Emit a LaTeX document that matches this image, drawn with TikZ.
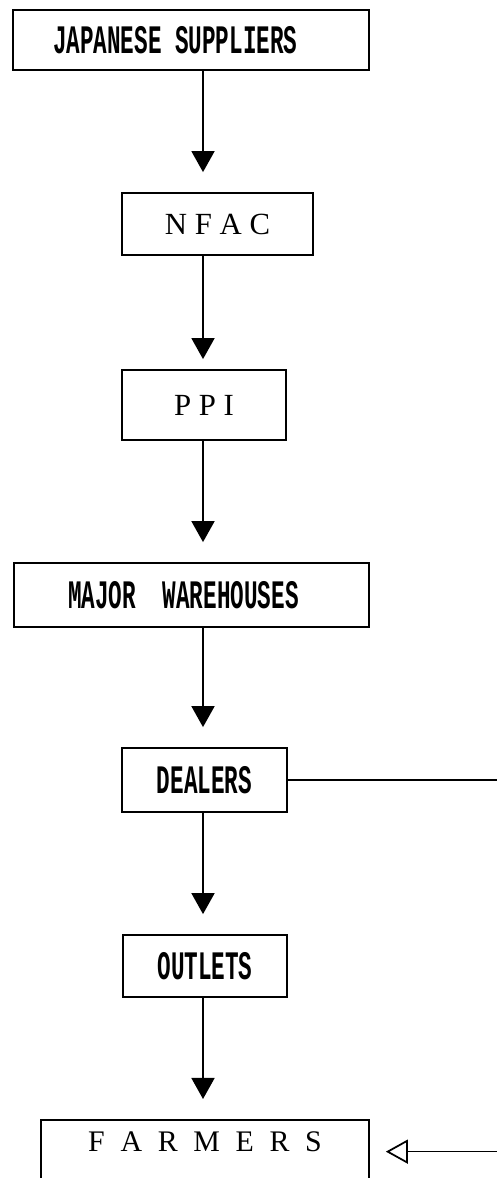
\documentclass[tikz,border=0pt]{standalone}
\usepackage{fontspec}
\setmainfont{Liberation Serif}
\newfontfamily\printfont[FakeStretch=0.56]{Liberation Mono}
\newfontfamily\widefont[WordSpace=2.1]{Liberation Serif}
\usetikzlibrary{arrows.meta}

\begin{document}
\begin{tikzpicture}[
    box/.style={draw, line width=1pt, inner sep=0pt},
    printed/.style={font=\printfont\bfseries\fontsize{23}{26}\selectfont},
    serifed/.style={font=\fontsize{17.5}{20}\selectfont},
    flow/.style={line width=1pt, -{Triangle[length=0.42cm, width=0.46cm]}, shorten >=0.4cm},
    feedback/.style={line width=0.8pt, -{Triangle[open, length=0.44cm, width=0.48cm, line width=1pt]}, shorten >=0.32cm}
]
    \useasboundingbox (0,0) rectangle (9.94,23.56);

    % Catena di distribuzione
    \node[box, printed, minimum height=1.2cm, text width=5.52cm, inner xsep=0.8cm, align=left] (suppliers) at (3.82,22.76) {JAPANESE SUPPLIERS};
    \node[box, serifed, minimum width=3.82cm, minimum height=1.24cm] (nfac) at (4.35,19.08) {N F A C};
    \node[box, serifed, minimum width=3.28cm, minimum height=1.4cm] (ppi) at (4.08,15.46) {P P I};
    \node[box, printed, minimum height=1.28cm, text width=4.94cm, inner xsep=1.08cm, align=left] (warehouses) at (3.83,11.66) {MAJOR\ \ WAREHOUSES};
    \node[box, printed, minimum width=3.3cm, minimum height=1.28cm] (dealers) at (4.09,7.96) {DEALERS};
    \node[box, printed, minimum width=3.28cm, minimum height=1.24cm] (outlets) at (4.10,4.24) {OUTLETS};
    \node[box, font=\widefont\fontsize{17}{20}\selectfont, anchor=north, minimum width=6.56cm, inner ysep=0.24cm, text depth=2cm] (farmers) at (4.10,1.18) {F A R M E R S};

    % Frecce verticali
    \coordinate (spine) at (4.06,0);
    \draw[flow] (suppliers.south -| spine) -- (nfac.north -| spine);
    \draw[flow, shorten >=0.2cm] (nfac.south -| spine) -- (ppi.north -| spine);
    \draw[flow] (ppi.south -| spine) -- (warehouses.north -| spine);
    \draw[flow] (warehouses.south -| spine) -- (dealers.north -| spine);
    \draw[flow] (dealers.south -| spine) -- (outlets.north -| spine);
    \draw[flow] (outlets.south -| spine) -- (farmers.north -| spine);

    % Vendita diretta (fuori pagina a destra)
    \coordinate (bypass) at (10.4,0);
    \draw[feedback] (dealers.east) -- (dealers.east -| bypass) |- (farmers.base east);
\end{tikzpicture}
\end{document}
